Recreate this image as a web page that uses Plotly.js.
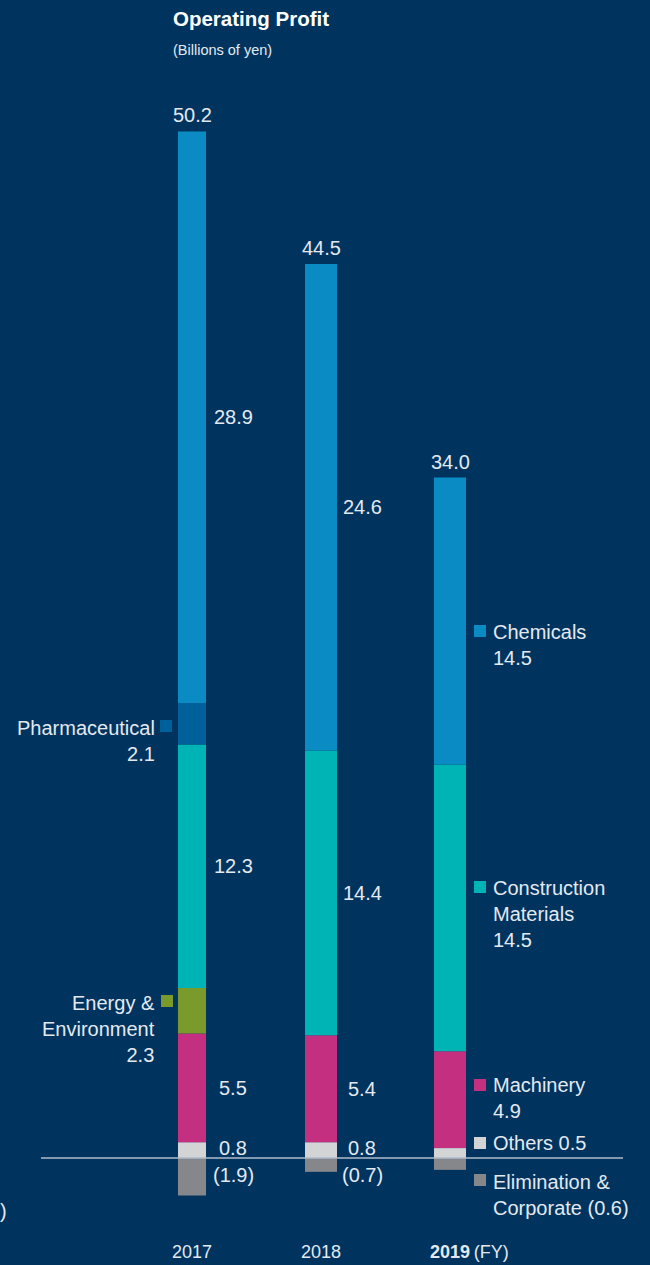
<!DOCTYPE html>
<html>
<head>
<meta charset="utf-8">
<script src="https://cdn.plot.ly/plotly-3.0.1.min.js"></script>
<style>html,body{margin:0;padding:0;background:#00345f;}#chart{width:650px;height:1265px;}</style>
</head>
<body>
<div id="chart"></div>
<script>
// ---- data ----
const years = ['2017', '2018', '2019'];
const others = [0.8, 0.8, 0.5];
const machinery = [5.5, 5.4, 4.9];
const energy = [2.3, null, null];
const construction = [12.3, 14.4, 14.5];
const pharmaceutical = [2.1, null, null];
const chemicals = [28.9, 24.6, 14.5];
const elimination = [-1.9, -0.7, -0.6];
const totals = [50.2, 44.5, 34.0];

// ---- styling / layout helpers ----
const BG = '#00345f';
const TXT = '#e4e9ef';
const FONT = 'Liberation Sans, Arial, sans-serif';
const C = {
  others: '#d3d4d6', machinery: '#c42f7f', energy: '#7a9a2b',
  construction: '#00b3b4', pharmaceutical: '#00609c', chemicals: '#0a8bc4',
  elimination: '#86878a'
};
const W = 650, H = 1265;
const X0 = 192, XS = 129;     // pixel of first category, px per category
const Y0 = 1158, YS = 19.78;  // pixel of zero, px per unit
const X = px => (px - X0) / XS;
const Y = py => (Y0 - py) / YS;
const xs = years.map((_, i) => i);
const widths = [28 / XS, 32 / XS, 32 / XS];

function bar(name, vals, color) {
  return {type: 'bar', name: name, x: xs, y: vals, width: widths,
    marker: {color: color, line: {width: 0}}, hoverinfo: 'skip'};
}
const stack = [
  ['Others', others, C.others],
  ['Machinery', machinery, C.machinery],
  ['Energy & Environment', energy, C.energy],
  ['Construction Materials', construction, C.construction],
  ['Pharmaceutical', pharmaceutical, C.pharmaceutical],
  ['Chemicals', chemicals, C.chemicals]
];
const traces = stack.map(s => bar(s[0], s[1], s[2]));
traces.push(bar('Elimination & Corporate', elimination, C.elimination));

const fmt = v => v < 0 ? '(' + Math.abs(v).toFixed(1) + ')' : v.toFixed(1);
const ann = [];
function txt(x, y, text, opt) {
  ann.push(Object.assign({x: x, y: y, xref: 'x', yref: 'y', text: text, showarrow: false,
    xanchor: 'center', yanchor: 'middle', font: {family: FONT, size: 20, color: TXT}}, opt || {}));
}

// title
txt(X(171), Y(18), '<b>Operating Profit</b>', {xanchor: 'left', font: {family: FONT, size: 20.5, color: '#ffffff'}});
txt(X(171), Y(50), '(Billions of yen)', {xanchor: 'left', font: {family: FONT, size: 14.5, color: TXT}});

// totals on top of each stack
xs.forEach((x, i) => {
  let top = 0;
  stack.forEach(s => { top += (s[1][i] || 0); });
  txt(x, top, totals[i].toFixed(1), {yanchor: 'bottom', yshift: 3});
});

// segment values for 2017 and 2018
const labelled = [others, machinery, construction, chemicals];
[0, 1].forEach(i => {
  let base = 0;
  stack.forEach(s => {
    const v = s[1][i] || 0;
    if (labelled.includes(s[1]) && v) {
      txt(xs[i] + 0.32, base + v / 2 + (s[1] === others ? 0.1 : 0), fmt(v));
    }
    base += v;
  });
  txt(xs[i] + 0.32, Y(1175), fmt(elimination[i]));
});

// legend-style labels
const shapes = [];
function sq(pxLeft, pyTop, color) {
  shapes.push({type: 'rect', xref: 'x', yref: 'y', x0: X(pxLeft), x1: X(pxLeft + 12),
    y0: Y(pyTop + 12), y1: Y(pyTop), fillcolor: color, line: {width: 0}, layer: 'above'});
}
// left side (2017 small segments)
sq(160, 720, C.pharmaceutical);
txt(X(157), Y(741), 'Pharmaceutical<br>' + fmt(pharmaceutical[0]), {xanchor: 'right', align: 'right'});
sq(161, 995, C.energy);
txt(X(157), Y(1029), 'Energy &<br>Environment<br>' + fmt(energy[0]), {xanchor: 'right', align: 'right'});
// right side (2019)
sq(474, 625, C.chemicals);
txt(X(491), Y(645), 'Chemicals<br>' + fmt(chemicals[2]), {xanchor: 'left', align: 'left'});
sq(474, 881, C.construction);
txt(X(491), Y(913.5), 'Construction<br>Materials<br>' + fmt(construction[2]), {xanchor: 'left', align: 'left'});
sq(474, 1079, C.machinery);
txt(X(491), Y(1097.5), 'Machinery<br>' + fmt(machinery[2]), {xanchor: 'left', align: 'left'});
sq(474, 1137, C.others);
txt(X(491), Y(1143), 'Others ' + fmt(others[2]), {xanchor: 'left', align: 'left'});
sq(474, 1174, C.elimination);
txt(X(491), Y(1194.5), 'Elimination &<br>Corporate ' + fmt(elimination[2]), {xanchor: 'left', align: 'left'});

// stray bracket from neighbouring panel (left edge)
txt(X(1), Y(1211), ')', {xanchor: 'left', xshift: -3});

// year labels
txt(xs[0], Y(1252), years[0], {font: {family: FONT, size: 18, color: TXT}});
txt(xs[1], Y(1252), years[1], {font: {family: FONT, size: 18, color: TXT}});
txt(X(428), Y(1252), '<b>' + years[2] + '</b>\u2009(FY)', {xanchor: 'left', font: {family: FONT, size: 18, color: TXT}});

// zero line
shapes.push({type: 'line', xref: 'x', yref: 'y', x0: X(41), x1: X(623), y0: 0, y1: 0,
  line: {color: '#aebbcb', width: 1.5}, layer: 'above'});

const layout = {
  width: W, height: H, autosize: false,
  margin: {l: 0, r: 0, t: 0, b: 0, pad: 0},
  paper_bgcolor: BG, plot_bgcolor: BG,
  barmode: 'relative', showlegend: false,
  xaxis: {visible: false, range: [X(0), X(W)], fixedrange: true},
  yaxis: {visible: false, range: [Y(H), Y(0)], fixedrange: true},
  annotations: ann, shapes: shapes
};
Plotly.newPlot('chart', traces, layout, {staticPlot: true, displayModeBar: false});
</script>
</body>
</html>
